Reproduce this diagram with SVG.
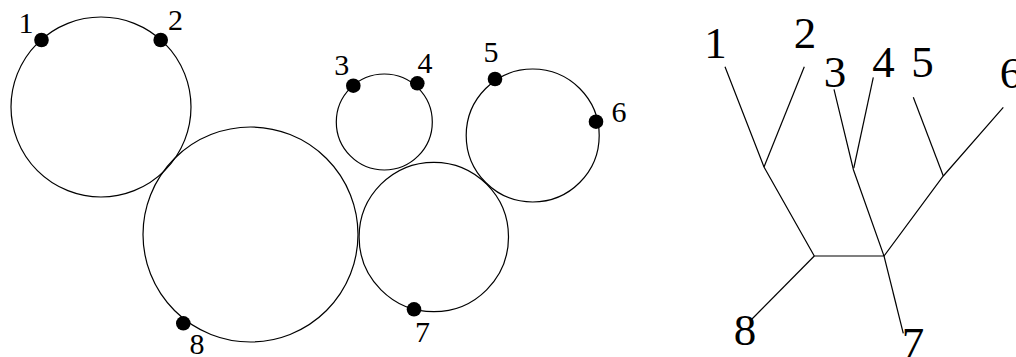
<svg xmlns="http://www.w3.org/2000/svg" width="1016" height="357" viewBox="0 0 1016 357">
<style>
.c{fill:none;stroke:#000;stroke-width:1.2}
.d{fill:#000}
.l{stroke:#000;stroke-width:1.2;fill:none}
text{font-family:'Liberation Serif','Times New Roman','DejaVu Serif',serif;fill:#000;text-anchor:middle}
.s{font-size:30px}
.b{font-size:45px}
</style>
<rect width="1016" height="357" fill="#fff"/>
<g id="circles">
<circle id="circleA" class="c" cx="101" cy="107" r="90"/>
<circle id="circleB" class="c" cx="250.5" cy="234.5" r="107.5"/>
<circle id="circleC" class="c" cx="384.3" cy="122" r="48"/>
<circle id="circleD" class="c" cx="433.8" cy="237" r="74.7"/>
<circle id="circleE" class="c" cx="532.7" cy="135.5" r="66.5"/>
</g>
<g id="points">
<g id="p1"><circle class="d" cx="41.5" cy="40" r="7.3"/><text class="s" x="26" y="33">1</text></g>
<g id="p2"><circle class="d" cx="160.7" cy="40" r="7.3"/><text class="s" x="175.5" y="30">2</text></g>
<g id="p3"><circle class="d" cx="353.3" cy="85.7" r="7.3"/><text class="s" x="341.7" y="75">3</text></g>
<g id="p4"><circle class="d" cx="417.3" cy="83.3" r="7.3"/><text class="s" x="425" y="73">4</text></g>
<g id="p5"><circle class="d" cx="495" cy="79" r="7.3"/><text class="s" x="491" y="62">5</text></g>
<g id="p6"><circle class="d" cx="596" cy="121.7" r="7.3"/><text class="s" x="619" y="122">6</text></g>
<g id="p7"><circle class="d" cx="414" cy="309.3" r="7.3"/><text class="s" x="422.5" y="342">7</text></g>
<g id="p8"><circle class="d" cx="183.3" cy="323.3" r="7.3"/><text class="s" x="197" y="354">8</text></g>
</g>
<g id="tree-edges">
<path class="l" d="M725,66.7 L764,167 L814.3,256 L884,256 L853.5,170 L834,89.3"/>
<path class="l" d="M804.3,66.7 L764,167"/>
<path class="l" d="M873.3,77.3 L853.8,168"/>
<path class="l" d="M814.3,256 L751,320"/>
<path class="l" d="M884,256 L903.3,333.3"/>
<path class="l" d="M884,256 L943.3,176 L1003.3,107.3"/>
<path class="l" d="M913.3,97.3 L943.3,176"/>
</g>
<g id="tree-labels">
<text class="b" x="715.5" y="58">1</text>
<text class="b" x="805" y="48">2</text>
<text class="b" x="835" y="87">3</text>
<text class="b" x="883.5" y="77">4</text>
<text class="b" x="922.5" y="77">5</text>
<text class="b" x="1011" y="88">6</text>
<text class="b" x="913" y="358">7</text>
<text class="b" x="745" y="345">8</text>
</g>
</svg>
